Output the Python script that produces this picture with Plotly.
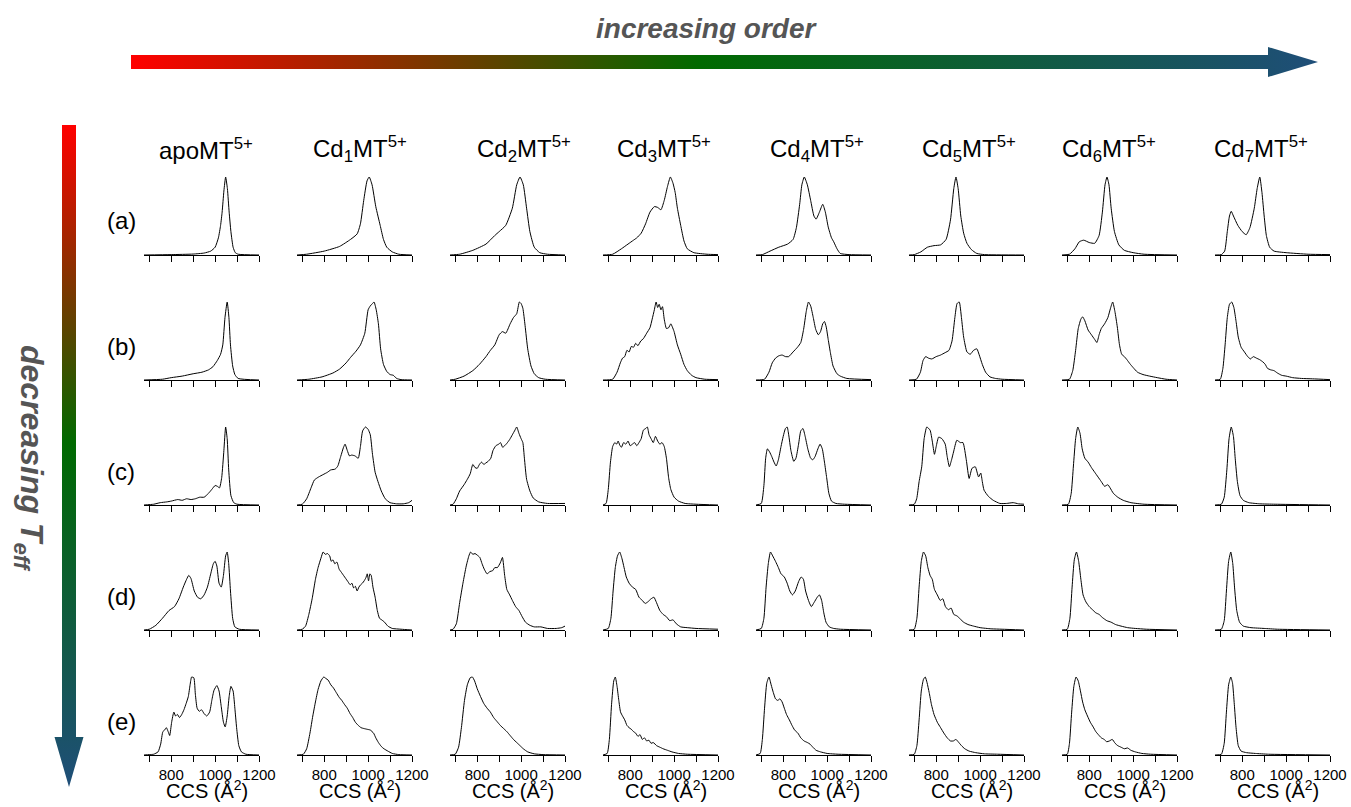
import plotly.graph_objects as go

W, H = 1351, 807

# ---------------- axis / label data ----------------
tick_vals = [700, 800, 900, 1000, 1100, 1200]
tick_text = ["", "800", "", "1000", "", "1200"]
x_range = [676, 1200]

species = ["apoMT<sup>5+</sup>", "Cd<sub>1</sub>MT<sup>5+</sup>", "Cd<sub>2</sub>MT<sup>5+</sup>",
           "Cd<sub>3</sub>MT<sup>5+</sup>", "Cd<sub>4</sub>MT<sup>5+</sup>", "Cd<sub>5</sub>MT<sup>5+</sup>",
           "Cd<sub>6</sub>MT<sup>5+</sup>", "Cd<sub>7</sub>MT<sup>5+</sup>"]
row_labels = ["(a)", "(b)", "(c)", "(d)", "(e)"]
x_title = "CCS (Å<sup>2</sup>)"

# ---------------- CCS distributions: (CCS, relative intensity) ----------------
# row (a)
apo_a = [(676,0),(800,0.005),(900,0.012),(950,0.025),(980,0.05),(1000,0.1),(1015,0.22),(1025,0.38),(1032,0.55),(1040,0.82),(1048,1.0),(1056,0.85),(1064,0.55),(1072,0.3),(1082,0.1),(1092,0.03),(1105,0.01),(1200,0)]
cd1_a = [(676,0),(720,0.01),(800,0.05),(870,0.11),(920,0.2),(950,0.27),(965,0.4),(980,0.7),(995,0.95),(1005,1.0),(1018,0.9),(1035,0.62),(1055,0.38),(1070,0.2),(1085,0.1),(1110,0.04),(1140,0.01),(1200,0)]
cd2_a = [(676,0),(720,0.01),(780,0.06),(840,0.14),(880,0.25),(900,0.3),(930,0.38),(960,0.6),(980,0.9),(995,1.0),(1010,0.9),(1025,0.6),(1040,0.3),(1060,0.1),(1085,0.03),(1120,0.01),(1200,0)]
cd3_a = [(676,0),(720,0.01),(760,0.08),(790,0.14),(815,0.19),(830,0.22),(850,0.28),(870,0.4),(890,0.55),(910,0.62),(925,0.61),(940,0.58),(955,0.7),(970,0.88),(983,1.0),(995,0.92),(1005,0.8),(1015,0.6),(1030,0.38),(1045,0.18),(1060,0.08),(1090,0.03),(1150,0.01),(1200,0.005)]
cd4_a = [(676,0),(705,0.005),(740,0.05),(780,0.1),(820,0.14),(845,0.2),(860,0.35),(875,0.65),(885,0.9),(896,1.0),(910,0.9),(925,0.7),(940,0.5),(950,0.46),(965,0.55),(980,0.65),(992,0.55),(1005,0.36),(1020,0.22),(1030,0.17),(1045,0.08),(1060,0.02),(1100,0.005),(1200,0)]
cd5_a = [(676,0),(700,0.005),(730,0.04),(760,0.1),(790,0.12),(820,0.13),(845,0.2),(865,0.45),(880,0.85),(890,1.0),(900,0.85),(912,0.5),(925,0.28),(940,0.15),(960,0.07),(985,0.02),(1020,0.005),(1200,0)]
cd6_a = [(676,0),(710,0.01),(735,0.08),(755,0.17),(775,0.19),(800,0.16),(825,0.15),(845,0.25),(860,0.55),(872,0.9),(881,1.0),(890,0.9),(900,0.6),(915,0.3),(935,0.13),(960,0.06),(1000,0.03),(1050,0.01),(1200,0)]
cd7_a = [(676,0),(705,0.005),(720,0.05),(732,0.3),(742,0.5),(750,0.56),(760,0.5),(780,0.38),(800,0.3),(818,0.26),(835,0.35),(855,0.6),(868,0.85),(880,1.0),(890,0.8),(900,0.5),(910,0.25),(925,0.1),(945,0.05),(1000,0.03),(1100,0.01),(1200,0.005)]
# row (b)
apo_b = [(676,0),(760,0.01),(800,0.03),(850,0.05),(900,0.08),(940,0.1),(970,0.13),(990,0.17),(1010,0.25),(1025,0.33),(1035,0.45),(1045,0.8),(1055,1.0),(1063,0.8),(1070,0.45),(1080,0.18),(1090,0.07),(1105,0.02),(1200,0)]
cd1_b = [(676,0),(730,0.01),(790,0.04),(840,0.09),(870,0.14),(900,0.22),(920,0.29),(945,0.37),(965,0.45),(985,0.6),(1000,0.9),(1010,0.95),(1020,0.98),(1027,1.0),(1037,0.9),(1047,0.72),(1057,0.4),(1070,0.2),(1085,0.11),(1100,0.07),(1115,0.06),(1130,0.02),(1150,0.005),(1200,0)]
cd2_b = [(676,0),(700,0.01),(740,0.05),(780,0.12),(810,0.2),(840,0.3),(860,0.38),(880,0.45),(900,0.58),(915,0.62),(930,0.6),(950,0.72),(965,0.8),(980,0.85),(992,1.0),(1000,0.98),(1008,0.92),(1018,0.7),(1030,0.4),(1045,0.18),(1060,0.08),(1080,0.03),(1110,0.01),(1200,0)]
cd3_b = [(676,0),(720,0.01),(740,0.1),(755,0.22),(765,0.28),(775,0.3),(785,0.38),(795,0.36),(805,0.43),(815,0.42),(825,0.47),(835,0.44),(848,0.5),(860,0.53),(875,0.6),(890,0.67),(900,0.78),(910,0.9),(918,1.0),(925,0.93),(932,0.97),(940,0.9),(947,0.94),(955,0.78),(965,0.66),(975,0.67),(985,0.72),(992,0.68),(1000,0.62),(1015,0.45),(1030,0.33),(1045,0.2),(1060,0.12),(1080,0.06),(1100,0.03),(1140,0.01),(1200,0.005)]
cd4_b = [(676,0),(715,0.01),(735,0.1),(750,0.22),(765,0.28),(780,0.31),(795,0.32),(810,0.3),(825,0.3),(845,0.36),(865,0.42),(880,0.48),(893,0.65),(905,0.88),(915,1.0),(925,0.95),(937,0.8),(948,0.65),(960,0.58),(970,0.62),(980,0.72),(988,0.75),(996,0.68),(1005,0.52),(1015,0.35),(1027,0.18),(1045,0.08),(1060,0.05),(1090,0.02),(1200,0.005)]
cd5_b = [(676,0),(710,0.01),(728,0.1),(740,0.25),(752,0.3),(765,0.28),(780,0.27),(800,0.3),(820,0.32),(840,0.35),(858,0.38),(872,0.5),(885,0.8),(895,0.98),(905,1.0),(915,0.8),(925,0.55),(940,0.36),(955,0.33),(970,0.38),(985,0.4),(995,0.33),(1010,0.2),(1025,0.1),(1045,0.04),(1070,0.02),(1100,0.01),(1200,0)]
cd6_b = [(676,0),(710,0.01),(725,0.12),(738,0.38),(750,0.66),(762,0.78),(770,0.81),(780,0.76),(795,0.64),(810,0.58),(825,0.52),(835,0.48),(845,0.58),(855,0.66),(870,0.72),(885,0.8),(897,0.92),(907,1.0),(917,0.88),(928,0.68),(938,0.45),(948,0.33),(960,0.3),(972,0.26),(985,0.21),(1000,0.16),(1020,0.1),(1045,0.07),(1075,0.05),(1110,0.03),(1150,0.01),(1200,0)]
cd7_b = [(676,0),(700,0.01),(712,0.15),(722,0.45),(732,0.8),(742,0.97),(752,1.0),(762,0.93),(772,0.75),(782,0.55),(795,0.42),(810,0.36),(825,0.3),(838,0.27),(850,0.3),(865,0.28),(880,0.26),(895,0.23),(905,0.2),(915,0.15),(930,0.13),(945,0.12),(960,0.09),(980,0.06),(1000,0.05),(1030,0.03),(1070,0.02),(1120,0.015),(1200,0.005)]
# row (c)
apo_c = [(676,0),(720,0.01),(750,0.03),(780,0.04),(800,0.05),(830,0.07),(850,0.06),(870,0.08),(890,0.07),(910,0.08),(930,0.1),(950,0.1),(970,0.15),(985,0.2),(1000,0.25),(1010,0.24),(1020,0.22),(1030,0.35),(1040,0.7),(1048,1.0),(1055,0.85),(1062,0.45),(1072,0.12),(1085,0.03),(1100,0.01),(1200,0)]
cd1_c = [(676,0),(700,0.01),(720,0.08),(740,0.22),(755,0.32),(775,0.36),(795,0.39),(815,0.42),(830,0.45),(850,0.46),(862,0.5),(875,0.62),(888,0.74),(895,0.78),(905,0.7),(915,0.63),(925,0.64),(940,0.63),(955,0.6),(965,0.75),(975,0.95),(988,1.0),(1000,0.97),(1010,0.9),(1020,0.65),(1032,0.42),(1045,0.3),(1060,0.18),(1078,0.08),(1100,0.03),(1130,0.015),(1160,0.015),(1185,0.03),(1200,0.06)]
cd2_c = [(676,0),(690,0.01),(705,0.08),(720,0.18),(740,0.26),(755,0.33),(768,0.4),(780,0.52),(790,0.48),(800,0.47),(810,0.52),(820,0.55),(830,0.52),(840,0.54),(850,0.56),(862,0.6),(872,0.7),(885,0.76),(898,0.78),(906,0.8),(916,0.74),(925,0.76),(935,0.79),(948,0.84),(960,0.9),(972,0.96),(980,1.0),(990,0.92),(1000,0.85),(1008,0.8),(1015,0.6),(1025,0.33),(1040,0.18),(1055,0.09),(1080,0.04),(1120,0.02),(1200,0.02)]
cd3_c = [(676,0),(690,0.02),(700,0.2),(710,0.55),(720,0.75),(730,0.8),(738,0.78),(745,0.82),(752,0.77),(760,0.74),(770,0.8),(780,0.78),(790,0.82),(800,0.76),(810,0.78),(820,0.8),(830,0.76),(840,0.8),(850,0.85),(860,0.96),(870,0.98),(878,1.0),(886,0.9),(895,0.85),(905,0.8),(915,0.88),(925,0.82),(935,0.78),(945,0.8),(955,0.75),(965,0.6),(975,0.35),(985,0.2),(1000,0.1),(1020,0.05),(1050,0.02),(1100,0.01),(1200,0)]
cd4_c = [(676,0),(700,0.02),(712,0.25),(720,0.6),(728,0.72),(738,0.68),(748,0.62),(758,0.55),(768,0.5),(778,0.58),(790,0.75),(800,0.88),(810,0.98),(818,1.0),(825,0.9),(835,0.7),(848,0.56),(858,0.6),(870,0.78),(880,0.95),(890,0.98),(900,0.88),(912,0.72),(925,0.6),(935,0.58),(945,0.62),(958,0.72),(968,0.78),(978,0.72),(988,0.55),(998,0.35),(1008,0.15),(1020,0.05),(1040,0.02),(1080,0.01),(1200,0)]
cd5_c = [(676,0),(700,0.01),(711,0.08),(722,0.3),(734,0.49),(745,0.85),(757,1.0),(772,0.96),(782,0.82),(792,0.65),(800,0.75),(811,0.87),(826,0.85),(841,0.78),(850,0.62),(860,0.49),(870,0.58),(879,0.68),(894,0.83),(910,0.8),(922,0.8),(937,0.58),(950,0.34),(963,0.47),(978,0.49),(993,0.36),(1003,0.41),(1010,0.3),(1018,0.19),(1038,0.11),(1060,0.06),(1090,0.02),(1120,0.02),(1151,0.03),(1175,0.015),(1200,0.01)]
cd6_c = [(676,0),(705,0.01),(718,0.15),(728,0.5),(738,0.85),(748,1.0),(758,0.92),(768,0.72),(780,0.6),(795,0.55),(810,0.48),(825,0.42),(840,0.36),(855,0.3),(870,0.24),(885,0.26),(895,0.22),(910,0.15),(930,0.1),(955,0.06),(990,0.03),(1050,0.01),(1200,0)]
cd7_c = [(676,0),(705,0.01),(718,0.1),(730,0.45),(740,0.85),(750,1.0),(760,0.88),(768,0.6),(778,0.3),(790,0.12),(805,0.06),(830,0.03),(880,0.015),(950,0.01),(1200,0)]
# row (d)
apo_d = [(676,0),(700,0.01),(730,0.06),(760,0.15),(790,0.25),(815,0.3),(835,0.4),(855,0.55),(870,0.65),(880,0.7),(890,0.66),(905,0.5),(920,0.42),(935,0.4),(950,0.45),(965,0.55),(980,0.72),(992,0.85),(1000,0.88),(1008,0.82),(1018,0.6),(1028,0.55),(1038,0.7),(1048,0.95),(1055,1.0),(1062,0.85),(1070,0.5),(1080,0.15),(1090,0.04),(1110,0.01),(1200,0)]
cd1_d = [(676,0),(700,0.01),(715,0.05),(730,0.2),(745,0.4),(760,0.65),(772,0.8),(785,0.92),(795,1.0),(805,0.97),(815,0.98),(825,0.95),(832,0.88),(840,0.9),(848,0.85),(858,0.87),(868,0.78),(878,0.74),(888,0.7),(898,0.66),(908,0.62),(918,0.58),(926,0.6),(934,0.54),(942,0.56),(950,0.5),(958,0.55),(966,0.58),(974,0.6),(982,0.63),(990,0.67),(996,0.72),(1002,0.63),(1008,0.72),(1014,0.7),(1022,0.55),(1032,0.42),(1042,0.25),(1052,0.15),(1062,0.13),(1075,0.1),(1090,0.05),(1110,0.02),(1150,0.01),(1200,0)]
cd2_d = [(676,0),(690,0.01),(705,0.08),(720,0.35),(735,0.6),(750,0.82),(762,0.95),(770,1.0),(780,0.97),(790,0.98),(800,0.96),(812,0.93),(822,0.85),(832,0.78),(845,0.72),(858,0.75),(870,0.76),(880,0.8),(892,0.8),(905,0.86),(915,0.93),(925,0.7),(935,0.52),(948,0.45),(960,0.38),(975,0.3),(990,0.25),(1005,0.17),(1020,0.1),(1040,0.06),(1060,0.04),(1090,0.04),(1120,0.02),(1160,0.02),(1185,0.03),(1200,0.05)]
cd3_d = [(676,0),(700,0.02),(712,0.15),(722,0.5),(732,0.8),(742,0.95),(752,1.0),(762,0.92),(772,0.8),(782,0.68),(795,0.6),(810,0.55),(825,0.52),(840,0.42),(855,0.38),(868,0.34),(880,0.36),(895,0.4),(908,0.42),(920,0.35),(935,0.25),(950,0.2),(965,0.17),(980,0.12),(995,0.13),(1010,0.08),(1030,0.04),(1060,0.03),(1100,0.02),(1200,0.01)]
cd4_d = [(676,0),(700,0.02),(712,0.15),(722,0.55),(732,0.85),(742,1.0),(752,0.95),(765,0.88),(778,0.8),(790,0.72),(805,0.68),(818,0.6),(830,0.5),(842,0.45),(855,0.5),(870,0.62),(882,0.68),(892,0.65),(902,0.5),(915,0.38),(928,0.3),(940,0.35),(955,0.42),(965,0.45),(975,0.38),(985,0.22),(995,0.1),(1010,0.04),(1030,0.02),(1060,0.01),(1200,0)]
cd5_d = [(676,0),(700,0.01),(712,0.15),(722,0.55),(732,0.88),(742,1.0),(752,0.95),(762,0.8),(772,0.7),(782,0.65),(792,0.52),(805,0.45),(818,0.38),(830,0.4),(842,0.3),(855,0.26),(868,0.28),(880,0.2),(895,0.18),(910,0.14),(925,0.1),(945,0.07),(970,0.05),(1000,0.03),(1050,0.015),(1100,0.01),(1200,0)]
cd6_d = [(676,0),(700,0.01),(712,0.15),(722,0.55),(732,0.9),(742,1.0),(752,0.88),(762,0.65),(772,0.45),(785,0.36),(800,0.3),(815,0.26),(830,0.22),(845,0.2),(860,0.16),(880,0.12),(900,0.1),(920,0.07),(945,0.05),(975,0.03),(1010,0.02),(1060,0.01),(1200,0)]
cd7_d = [(676,0),(705,0.01),(718,0.12),(728,0.5),(738,0.88),(748,1.0),(757,0.85),(765,0.55),(775,0.25),(788,0.1),(805,0.05),(840,0.03),(900,0.02),(960,0.01),(1200,0)]
# row (e)
apo_e = [(676,0),(700,0.005),(720,0.01),(740,0.04),(752,0.14),(762,0.3),(770,0.32),(778,0.35),(786,0.3),(793,0.25),(802,0.42),(812,0.55),(820,0.5),(828,0.52),(838,0.48),(848,0.52),(858,0.58),(868,0.66),(878,0.75),(886,0.9),(893,1.0),(903,0.99),(910,0.78),(918,0.6),(928,0.56),(938,0.58),(950,0.53),(962,0.5),(975,0.55),(985,0.7),(995,0.83),(1008,0.89),(1018,0.82),(1028,0.62),(1038,0.42),(1046,0.36),(1055,0.5),(1064,0.75),(1072,0.88),(1082,0.82),(1090,0.6),(1098,0.35),(1108,0.12),(1120,0.04),(1140,0.01),(1200,0)]
cd1_e = [(676,0),(705,0.01),(720,0.08),(735,0.28),(748,0.5),(760,0.68),(772,0.84),(785,0.95),(798,1.0),(808,0.98),(818,0.96),(830,0.9),(842,0.86),(855,0.8),(868,0.74),(880,0.7),(892,0.65),(905,0.6),(918,0.53),(930,0.48),(942,0.42),(955,0.38),(968,0.35),(980,0.34),(995,0.33),(1010,0.32),(1025,0.28),(1035,0.22),(1047,0.16),(1060,0.11),(1072,0.08),(1090,0.05),(1110,0.02),(1140,0.005),(1200,0)]
cd2_e = [(676,0),(700,0.01),(715,0.1),(728,0.35),(742,0.7),(755,0.9),(768,0.99),(778,1.0),(788,0.95),(800,0.85),(815,0.75),(830,0.66),(845,0.6),(860,0.55),(875,0.48),(890,0.43),(905,0.38),(920,0.34),(935,0.3),(950,0.25),(965,0.2),(980,0.16),(995,0.12),(1010,0.08),(1030,0.04),(1060,0.015),(1100,0.005),(1200,0)]
cd3_e = [(676,0),(695,0.02),(705,0.2),(715,0.65),(725,0.95),(732,1.0),(740,0.88),(748,0.7),(756,0.55),(765,0.5),(775,0.45),(785,0.38),(795,0.35),(805,0.33),(815,0.3),(825,0.28),(835,0.24),(845,0.26),(855,0.2),(865,0.22),(875,0.18),(885,0.19),(895,0.15),(905,0.16),(920,0.12),(935,0.1),(950,0.08),(970,0.06),(990,0.04),(1020,0.02),(1060,0.01),(1200,0)]
cd4_e = [(676,0),(695,0.02),(705,0.2),(715,0.6),(725,0.92),(735,1.0),(745,0.9),(755,0.8),(765,0.72),(775,0.7),(785,0.72),(795,0.68),(805,0.6),(815,0.52),(828,0.45),(840,0.38),(852,0.32),(867,0.28),(880,0.22),(895,0.18),(910,0.16),(922,0.14),(935,0.1),(950,0.06),(970,0.04),(1000,0.02),(1050,0.01),(1200,0)]
cd5_e = [(676,0),(700,0.01),(712,0.12),(722,0.45),(732,0.82),(742,0.97),(750,1.0),(758,0.93),(768,0.8),(778,0.65),(790,0.52),(805,0.42),(820,0.35),(835,0.28),(850,0.22),(865,0.18),(878,0.18),(890,0.2),(900,0.17),(915,0.12),(930,0.08),(950,0.05),(980,0.03),(1020,0.015),(1080,0.01),(1200,0)]
cd6_e = [(676,0),(700,0.01),(710,0.15),(720,0.55),(730,0.88),(740,1.0),(750,0.95),(760,0.82),(770,0.68),(780,0.58),(792,0.5),(805,0.42),(818,0.36),(830,0.3),(842,0.26),(855,0.22),(868,0.2),(880,0.17),(892,0.18),(905,0.2),(918,0.15),(930,0.12),(945,0.1),(960,0.08),(975,0.09),(990,0.06),(1010,0.04),(1040,0.02),(1080,0.01),(1200,0)]
cd7_e = [(676,0),(705,0.01),(718,0.15),(728,0.55),(738,0.9),(748,1.0),(756,0.92),(764,0.65),(772,0.35),(782,0.12),(795,0.05),(820,0.03),(860,0.02),(920,0.01),(1200,0)]

grid = [
    [apo_a, cd1_a, cd2_a, cd3_a, cd4_a, cd5_a, cd6_a, cd7_a],
    [apo_b, cd1_b, cd2_b, cd3_b, cd4_b, cd5_b, cd6_b, cd7_b],
    [apo_c, cd1_c, cd2_c, cd3_c, cd4_c, cd5_c, cd6_c, cd7_c],
    [apo_d, cd1_d, cd2_d, cd3_d, cd4_d, cd5_d, cd6_d, cd7_d],
    [apo_e, cd1_e, cd2_e, cd3_e, cd4_e, cd5_e, cd6_e, cd7_e],
]

# ---------------- layout geometry (pixels) ----------------
FONT = "Liberation Sans, Arial, Helvetica, sans-serif"
col_x0 = [144 + 153 * c for c in range(8)]
row_base = [255 + 125 * r for r in range(5)]
PW, PH = 115, 82
YMAX = 82 / 78.0
title_cx = [206, 360, 524, 664, 817, 969, 1109, 1261]


def fx(px):
    return px / W


def fy(py):
    return 1 - py / H


fig = go.Figure()
lay = {}
k = 0
for r in range(5):
    for c in range(8):
        k += 1
        sx = "" if k == 1 else str(k)
        pts = grid[r][c]
        fig.add_trace(go.Scatter(
            x=[p[0] for p in pts], y=[p[1] for p in pts], mode="lines",
            line=dict(color="black", width=1, shape="spline", smoothing=0.5),
            xaxis="x" + sx, yaxis="y" + sx,
            showlegend=False, hoverinfo="skip"))
        x0 = col_x0[c]
        base = row_base[r]
        lay["xaxis" + sx] = dict(
            domain=[fx(x0), fx(x0 + PW)], range=x_range, anchor="y" + sx,
            showgrid=False, zeroline=False, showline=True, linecolor="black", linewidth=1,
            ticks="outside", ticklen=6, tickwidth=1, tickcolor="black",
            tickmode="array", tickvals=tick_vals, ticktext=tick_text,
            showticklabels=(r == 4), tickfont=dict(size=15, color="black", family=FONT),
            automargin=False, fixedrange=True)
        lay["yaxis" + sx] = dict(
            domain=[fy(base), fy(base - PH)], range=[0, YMAX], anchor="x" + sx,
            visible=False, automargin=False, fixedrange=True)

# overlay axes in pixel units for the gradient arrows
lay["xaxis41"] = dict(domain=[0, 1], range=[0, W], anchor="y41", visible=False,
                      automargin=False, fixedrange=True)
lay["yaxis41"] = dict(domain=[0, 1], range=[H, 0], anchor="x41", visible=False,
                      automargin=False, fixedrange=True)

grad_h = [[0, "#ff0000"], [0.48, "#006a00"], [1, "#1f4e79"]]
grad_v = [[0, "#1f4e79"], [0.52, "#006a00"], [1, "#ff0000"]]
fig.add_trace(go.Scatter(
    x=[131, 1268, 1268, 1318, 1268, 1268, 131, 131],
    y=[55, 55, 47, 62, 77, 69, 69, 55],
    mode="lines", line=dict(width=0), fill="toself",
    fillgradient=dict(type="horizontal", colorscale=grad_h),
    xaxis="x41", yaxis="y41", showlegend=False, hoverinfo="skip"))
fig.add_trace(go.Scatter(
    x=[62, 76, 76, 83.5, 69, 54.5, 62, 62],
    y=[125, 125, 737, 737, 787, 737, 737, 125],
    mode="lines", line=dict(width=0), fill="toself",
    fillgradient=dict(type="vertical", colorscale=grad_v),
    xaxis="x41", yaxis="y41", showlegend=False, hoverinfo="skip"))

ann = []
for c in range(8):
    ann.append(dict(x=fx(title_cx[c]), y=fy(149), xref="paper", yref="paper", text=species[c],
                    showarrow=False, xanchor="center", yanchor="middle",
                    font=dict(size=24, color="black", family=FONT)))
    ann.append(dict(x=fx(col_x0[c] + 63), y=fy(789), xref="paper", yref="paper", text=x_title,
                    showarrow=False, xanchor="center", yanchor="middle",
                    font=dict(size=20, color="black", family=FONT)))
for r in range(5):
    ann.append(dict(x=fx(121), y=fy(221 + 125 * r), xref="paper", yref="paper", text=row_labels[r],
                    showarrow=False, xanchor="center", yanchor="middle",
                    font=dict(size=24, color="black", family=FONT)))
ann.append(dict(x=fx(707), y=fy(28), xref="paper", yref="paper", text="<b><i>increasing order</i></b>",
                showarrow=False, xanchor="center", yanchor="middle",
                font=dict(size=28, color="#555555", family=FONT)))
ann.append(dict(x=fx(30), y=fy(458), xref="paper", yref="paper",
                text="<b><i>decreasing T<sub>eff</sub></i></b>", textangle=90,
                showarrow=False, xanchor="center", yanchor="middle",
                font=dict(size=32, color="#555555", family=FONT)))

fig.update_layout(lay)
fig.update_layout(
    width=W, height=H, margin=dict(l=0, r=0, t=0, b=0, autoexpand=False),
    paper_bgcolor="white", plot_bgcolor="rgba(0,0,0,0)",
    annotations=ann, showlegend=False,
    font=dict(family=FONT, color="black"))

post = ("document.documentElement.style.overflow='hidden';"
        "document.body.style.margin='0';document.body.style.overflow='hidden';"
        "var d=document.getElementById('{plot_id}');"
        "d.style.position='fixed';d.style.left='0px';d.style.top='0px';")
fig.write_html("out.html", config={"displayModeBar": False}, post_script=post)
